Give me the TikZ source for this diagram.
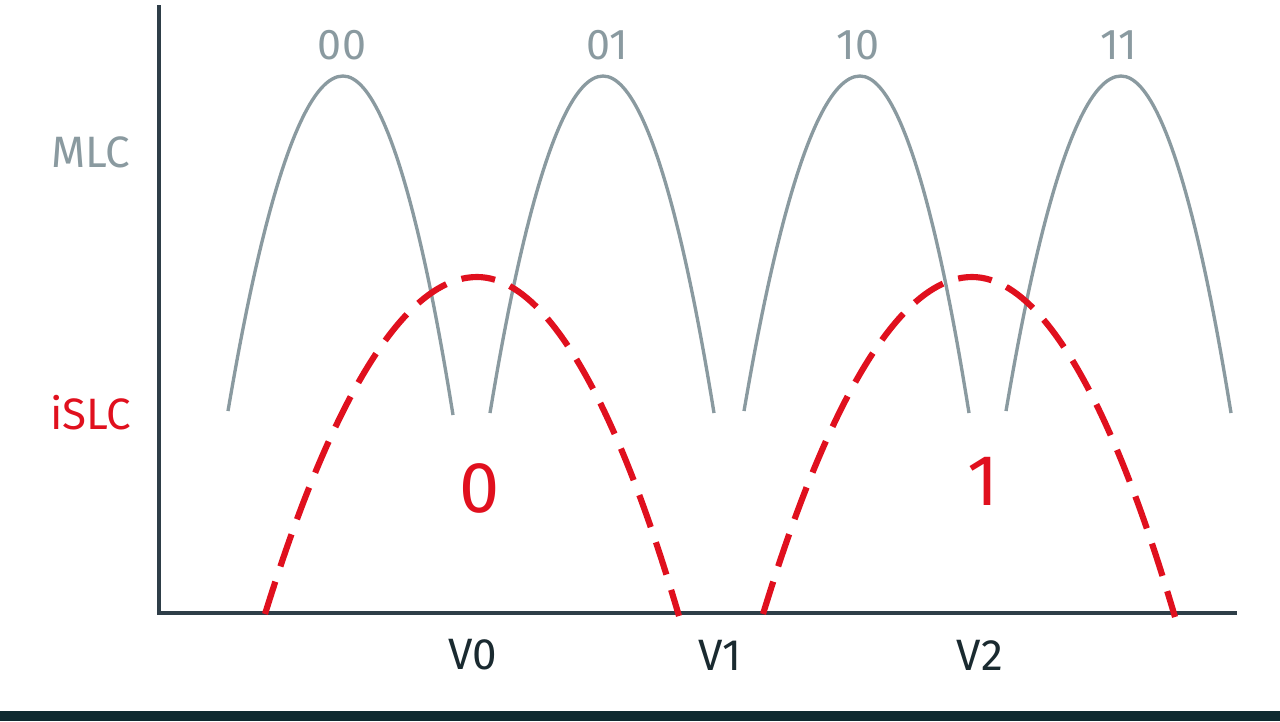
\documentclass[tikz,border=0pt]{standalone}
\usepackage{fontspec}
\setmainfont{Fira Sans}
\definecolor{axisc}{HTML}{2E3E48}
\definecolor{mlcgray}{HTML}{8A9AA0}
\definecolor{islcred}{HTML}{E0101E}
\definecolor{barc}{HTML}{0F2A30}
\definecolor{vtext}{HTML}{1A2A30}
\begin{document}
\begin{tikzpicture}[x=0.02cm,y=-0.02cm,
  axisline/.style={draw=axisc,line width=1.9pt},
  mlcarch/.style={draw=mlcgray,line width=1.9pt},
  islcarch/.style={draw=islcred,line width=3.5pt,dash pattern=on 0.68cm off 0.32cm},
  mlclabel/.style={text=mlcgray,font=\fontsize{24.5}{28}\selectfont,inner sep=0pt},
  redbig/.style={text=islcred,font=\fontsize{41}{46}\selectfont,inner sep=0pt},
  vlabel/.style={text=vtext,font=\fontsize{25}{30}\selectfont,inner sep=0pt},
  sidelabel/.style={font=\fontsize{25}{30}\selectfont,inner sep=0pt}]
\useasboundingbox (0,0) rectangle (1280,721);
% bottom bar
\fill[barc] (0,711) rectangle (1280,721);
% axes
\coordinate (top) at (159,5);
\coordinate (origin) at (159,613);
\coordinate (right) at (1237,613);
\draw[axisline] (top) -- (origin) -- (right);
% MLC arches
\draw[mlcarch] (228,411) parabola bend (343,76) (453,415);
\draw[mlcarch] (490,413) parabola bend (603,76) (714,413);
\draw[mlcarch] (744,411) parabola bend (860,76) (969,413);
\draw[mlcarch] (1006,411) parabola bend (1121,76) (1231,413);
% iSLC arches
\draw[islcarch] (265,614) parabola bend (477,277) (679,616);
\draw[islcarch] (763,614) parabola bend (972,277) (1175,617);
% labels
\node[mlclabel] (l00) at (342,45) {00};
\node[mlclabel] (l01) at (607,45) {01};
\node[mlclabel] (l10) at (858,45) {10};
\node[mlclabel] (l11) at (1119,45) {11};
\node[sidelabel,text=mlcgray] (mlc) at (91,152) {MLC};
\node[sidelabel,text=islcred] (islc) at (91,413) {iSLC};
\node[redbig] (zero) at (480,488) {0};
\node[redbig] (one) at (983,481) {1};
\node[vlabel] (v0) at (473,655) {V0};
\node[vlabel] (v1) at (720,655) {V1};
\node[vlabel] (v2) at (980,655) {V2};
\end{tikzpicture}
\end{document}
